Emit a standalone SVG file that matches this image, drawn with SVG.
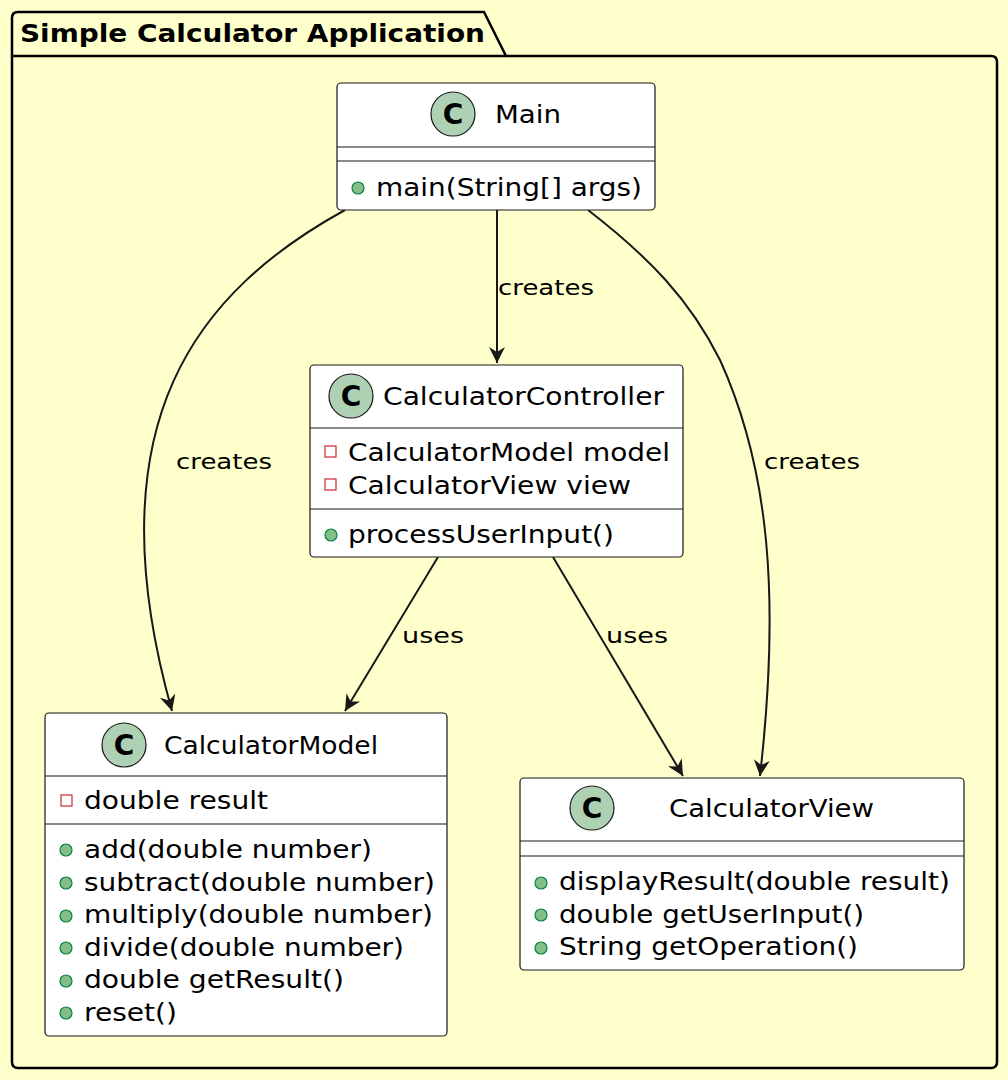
<svg xmlns="http://www.w3.org/2000/svg" width="1008" height="1080" viewBox="0 0 1008 1080" font-family="DejaVu Sans, Verdana, sans-serif">
<style>
text{font-family:'DejaVu Sans',Verdana,sans-serif;fill:#000}
.box{fill:#fff;stroke:#181818;stroke-width:1.2}
.sep{stroke:#181818;stroke-width:1.2}
.nm{font-size:24px}
.mb{font-size:24px}
.lb{font-size:21px}
.ic{fill:#ADD1B2;stroke:#181818;stroke-width:1.2}
.icl{font-size:28px;font-weight:bold;text-anchor:middle}
.pub{fill:#84BE84;stroke:#038048;stroke-width:1.2}
.priv{fill:none;stroke:#C82930;stroke-width:1.2}
.e{fill:none;stroke:#181818;stroke-width:2}
</style>
<defs>
<marker id="ah" markerWidth="24" markerHeight="24" refX="16" refY="10" orient="auto" markerUnits="userSpaceOnUse">
<path d="M0,2 L16,10 L0,18 L5,10 Z" fill="#181818"/>
</marker>
</defs>
<rect width="1008" height="1080" fill="#FFFFCC"/>
<g id="package">
<path d="M12,56 L12,18 Q12,12 18,12 L484,12 L506,56 L991,56 Q997,56 997,62 L997,1062 Q997,1068 991,1068 L18,1068 Q12,1068 12,1062 Z" fill="none" stroke="#000" stroke-width="2.5"/>
<line x1="12" y1="56" x2="506" y2="56" stroke="#000" stroke-width="2.5"/>
<text x="20" y="42" style="font-size:24px;font-weight:bold" textLength="465" lengthAdjust="spacingAndGlyphs">Simple Calculator Application</text>
</g>
<g id="edges">
<path class="e" d="M345,210 C200,290 90,420 172,711" marker-end="url(#ah)"/>
<path class="e" d="M497,210 L497,363" marker-end="url(#ah)"/>
<path class="e" d="M588,210 C650,258 690,300 720,360 C770,470 780,600 760,776" marker-end="url(#ah)"/>
<path class="e" d="M438,557 L345,711" marker-end="url(#ah)"/>
<path class="e" d="M553,557 L683,776" marker-end="url(#ah)"/>
<text class="lb" x="176" y="469" textLength="96" lengthAdjust="spacingAndGlyphs">creates</text>
<text class="lb" x="498" y="295" textLength="96" lengthAdjust="spacingAndGlyphs">creates</text>
<text class="lb" x="764" y="469" textLength="96" lengthAdjust="spacingAndGlyphs">creates</text>
<text class="lb" x="402" y="643" textLength="62" lengthAdjust="spacingAndGlyphs">uses</text>
<text class="lb" x="606" y="643" textLength="62" lengthAdjust="spacingAndGlyphs">uses</text>
</g>
<g id="Main">
<rect class="box" x="337" y="83" width="318" height="127" rx="4"/>
<circle class="ic" cx="453" cy="114" r="22"/><text class="icl" x="453" y="124">C</text>
<text class="nm" x="495" y="123" textLength="66" lengthAdjust="spacingAndGlyphs">Main</text>
<line class="sep" x1="337" y1="147" x2="655" y2="147"/>
<line class="sep" x1="337" y1="161" x2="655" y2="161"/>
<circle class="pub" cx="358" cy="188" r="6"/><text class="mb" x="376" y="196" textLength="266" lengthAdjust="spacingAndGlyphs">main(String[] args)</text>
</g>
<g id="CalculatorController">
<rect class="box" x="310" y="365" width="373" height="192" rx="4"/>
<circle class="ic" cx="351" cy="396" r="22"/><text class="icl" x="351" y="406">C</text>
<text class="nm" x="383" y="405" textLength="281" lengthAdjust="spacingAndGlyphs">CalculatorController</text>
<line class="sep" x1="310" y1="428" x2="683" y2="428"/>
<rect class="priv" x="325" y="446" width="11" height="11"/><text class="mb" x="348" y="461" textLength="322" lengthAdjust="spacingAndGlyphs">CalculatorModel model</text>
<rect class="priv" x="325" y="479" width="11" height="11"/><text class="mb" x="348" y="494" textLength="283" lengthAdjust="spacingAndGlyphs">CalculatorView view</text>
<line class="sep" x1="310" y1="509" x2="683" y2="509"/>
<circle class="pub" cx="331" cy="535" r="6"/><text class="mb" x="348" y="543" textLength="266" lengthAdjust="spacingAndGlyphs">processUserInput()</text>
</g>
<g id="CalculatorModel">
<rect class="box" x="45" y="713" width="402" height="323" rx="4"/>
<circle class="ic" cx="124" cy="745" r="22"/><text class="icl" x="124" y="755">C</text>
<text class="nm" x="164" y="754" textLength="214" lengthAdjust="spacingAndGlyphs">CalculatorModel</text>
<line class="sep" x1="45" y1="776" x2="447" y2="776"/>
<rect class="priv" x="61" y="795" width="11" height="11"/><text class="mb" x="84" y="809" textLength="184" lengthAdjust="spacingAndGlyphs">double result</text>
<line class="sep" x1="45" y1="824" x2="447" y2="824"/>
<circle class="pub" cx="66" cy="850" r="6"/><text class="mb" x="84" y="858" textLength="288" lengthAdjust="spacingAndGlyphs">add(double number)</text>
<circle class="pub" cx="66" cy="883" r="6"/><text class="mb" x="84" y="891" textLength="351" lengthAdjust="spacingAndGlyphs">subtract(double number)</text>
<circle class="pub" cx="66" cy="916" r="6"/><text class="mb" x="84" y="923" textLength="349" lengthAdjust="spacingAndGlyphs">multiply(double number)</text>
<circle class="pub" cx="66" cy="948" r="6"/><text class="mb" x="84" y="956" textLength="320" lengthAdjust="spacingAndGlyphs">divide(double number)</text>
<circle class="pub" cx="66" cy="981" r="6"/><text class="mb" x="84" y="988" textLength="260" lengthAdjust="spacingAndGlyphs">double getResult()</text>
<circle class="pub" cx="66" cy="1013" r="6"/><text class="mb" x="84" y="1021" textLength="93" lengthAdjust="spacingAndGlyphs">reset()</text>
</g>
<g id="CalculatorView">
<rect class="box" x="520" y="778" width="444" height="192" rx="4"/>
<circle class="ic" cx="592" cy="808" r="22"/><text class="icl" x="592" y="818">C</text>
<text class="nm" x="669" y="817" textLength="205" lengthAdjust="spacingAndGlyphs">CalculatorView</text>
<line class="sep" x1="520" y1="841" x2="964" y2="841"/>
<line class="sep" x1="520" y1="856" x2="964" y2="856"/>
<circle class="pub" cx="541" cy="883" r="6"/><text class="mb" x="559" y="890" textLength="391" lengthAdjust="spacingAndGlyphs">displayResult(double result)</text>
<circle class="pub" cx="541" cy="915" r="6"/><text class="mb" x="559" y="923" textLength="305" lengthAdjust="spacingAndGlyphs">double getUserInput()</text>
<circle class="pub" cx="541" cy="948" r="6"/><text class="mb" x="559" y="955" textLength="299" lengthAdjust="spacingAndGlyphs">String getOperation()</text>
</g>
</svg>
